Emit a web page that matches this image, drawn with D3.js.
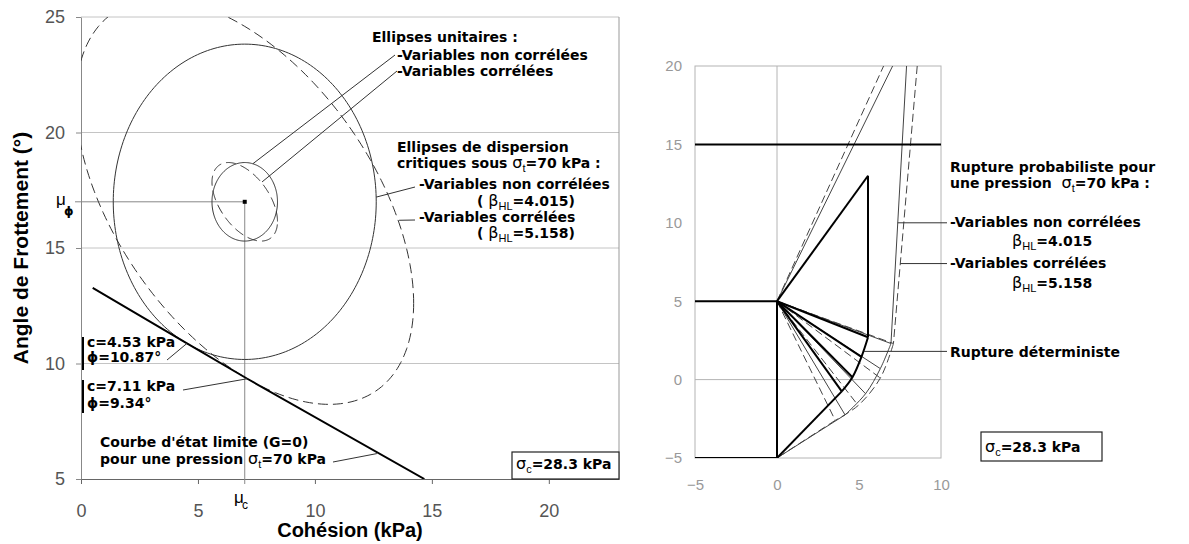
<!DOCTYPE html>
<html>
<head>
<meta charset="utf-8">
<script src="https://cdn.jsdelivr.net/npm/d3@7"></script>
<style>
body { margin: 0; background: #fff; }
.ann { font: bold 14px "DejaVu Sans", Verdana, sans-serif; fill: #000; white-space: pre; }
.greek { font: normal 16px "DejaVu Sans", sans-serif; }
.sub { font: normal 11px "Liberation Sans", Arial, sans-serif; }
.title { font: bold 20px "Liberation Sans", Arial, sans-serif; fill: #000; }
</style>
</head>
<body>
<svg id="chart" width="1189" height="544"></svg>
<script>
// ---- left chart : cohesion / friction plane
var cohTicks = [0, 5, 10, 15, 20];
var phiTicks = [5, 10, 15, 20, 25];
var mean = [7, 17];            // mu_c, mu_phi
var sigma = [1.4, 1.7];
var ellipseBeta = [1, 1, 4.015, 5.158];
var ellipseRho = [0, -0.5, 0, -0.5];
var ellipseDashed = [false, true, false, true];
var limitCurve = [[0.5, 13.27], [4.53, 10.87], [7.11, 9.34], [14.68, 5]];
var designPoints = [[4.53, 10.87], [7.11, 9.34]];

// ---- right chart : failure mechanisms
var xTicksR = [-5, 0, 5, 10];
var yTicksR = [-5, 0, 5, 10, 15, 20];
var groundLine = [[-5, 15], [10, 15]];
var wallLine = [[-5, 5], [0, 5], [0, -5], [-5, -5]];
var apex = [0, 5], toe = [0, -5];
var mechWedge = [[[0, 5], [5.55, 13]], [[0, 5], [7.05, 20]], [[0, 5], [6.5, 20]]];
var mechSide = [[[5.55, 13], [5.55, 2.7]], [[7.9, 20], [6.95, 2.3]], [[8.55, 20], [7.1, 2.3]]];
var mechSpiral = [
  [[5.55, 2.7], [5.15, 1.45], [4.6, 0.15], [3.95, -0.75]],
  [[6.95, 2.3], [6.3, 0.7], [5.4, -0.9], [4.15, -2.25]],
  [[7.1, 2.3], [6.3, 0.1], [4.95, -1.65], [3.55, -2.6]]
];

var svg = d3.select('#chart');
var defs = svg.append('defs');

function rich(g, x, y, parts) {
  var t = g.append('text').attr('class', 'ann').attr('x', x).attr('y', y);
  var shift = 0;
  parts.forEach(function (p) {
    var s = t.append('tspan').text(p[0]);
    var want = p[1] === 's' ? 4 : 0;
    if (want !== shift) { s.attr('dy', want - shift); shift = want; }
    if (p[1] === 'g') s.attr('class', 'greek');
    if (p[1] === 's') s.attr('class', 'sub');
  });
  return t;
}
function leader(g, x1, y1, x2, y2) {
  g.append('line').attr('x1', x1).attr('y1', y1).attr('x2', x2).attr('y2', y2)
    .attr('stroke', '#333').attr('stroke-width', 1);
}

// ================= LEFT =================
var xL = d3.scaleLinear().domain([0, 23]).range([81, 619]);
var yL = d3.scaleLinear().domain([5, 25]).range([479, 17]);
var left = svg.append('g');

defs.append('clipPath').attr('id', 'clipL').append('rect')
  .attr('x', xL(0)).attr('y', yL(25)).attr('width', xL(23) - xL(0)).attr('height', yL(5) - yL(25));

left.selectAll('.gridL').data(phiTicks.slice(1)).enter().append('line')
  .attr('x1', xL(0)).attr('x2', xL(23))
  .attr('y1', function (d) { return yL(d); }).attr('y2', function (d) { return yL(d); })
  .attr('stroke', '#c4c4c4');
left.append('line').attr('x1', xL(23)).attr('x2', xL(23)).attr('y1', yL(25)).attr('y2', yL(5))
  .attr('stroke', '#999');

var xAxisL = d3.axisBottom(xL).tickValues(cohTicks).tickSize(5).tickSizeOuter(0).tickPadding(20);
left.append('g').attr('transform', 'translate(0,' + yL(5) + ')').call(xAxisL)
  .attr('font-family', '"Liberation Sans", Arial, sans-serif').attr('font-size', 18)
  .call(function (g) {
    g.select('.domain').attr('stroke', '#666');
    g.selectAll('.tick line').attr('stroke', '#666');
    g.selectAll('.tick text').attr('fill', '#555');
  });
var yAxisL = d3.axisLeft(yL).tickValues(phiTicks).tickSize(5).tickSizeOuter(0).tickPadding(11);
left.append('g').attr('transform', 'translate(' + xL(0) + ',0)').call(yAxisL)
  .attr('font-family', '"Liberation Sans", Arial, sans-serif').attr('font-size', 18)
  .call(function (g) {
    g.select('.domain').attr('stroke', '#888');
    g.selectAll('.tick line').attr('stroke', '#888');
    g.selectAll('.tick text').attr('fill', '#555');
  });

// mean reference lines
left.append('line').attr('x1', xL(0) - 6).attr('x2', xL(mean[0]))
  .attr('y1', yL(mean[1])).attr('y2', yL(mean[1])).attr('stroke', '#888');
left.append('line').attr('x1', xL(mean[0])).attr('x2', xL(mean[0]))
  .attr('y1', yL(mean[1])).attr('y2', yL(5) + 5).attr('stroke', '#888');

var lineL = d3.line().x(function (d) { return xL(d[0]); }).y(function (d) { return yL(d[1]); });
function ellipsePts(beta, rho) {
  var pts = [];
  for (var k = 0; k <= 240; k++) {
    var t = k / 240 * 2 * Math.PI, u = Math.cos(t), v = Math.sin(t);
    pts.push([mean[0] + beta * sigma[0] * u,
              mean[1] + beta * sigma[1] * (rho * u + Math.sqrt(1 - rho * rho) * v)]);
  }
  return pts;
}
var ell = left.append('g').attr('clip-path', 'url(#clipL)');
ellipseBeta.forEach(function (b, i) {
  ell.append('path').attr('d', lineL(ellipsePts(b, ellipseRho[i])))
    .attr('fill', 'none').attr('stroke', '#333').attr('stroke-width', 1)
    .attr('stroke-dasharray', ellipseDashed[i] ? '10,5' : null);
});
ell.append('path').attr('d', lineL(limitCurve))
  .attr('fill', 'none').attr('stroke', '#000').attr('stroke-width', 2);

left.append('rect').attr('x', xL(mean[0]) - 2).attr('y', yL(mean[1]) - 2)
  .attr('width', 4).attr('height', 4).attr('fill', '#000');

// mu labels
left.append('text').attr('x', 56).attr('y', 205).attr('font-family', '"Liberation Sans", Arial')
  .attr('font-size', 17).text('μ');
left.append('text').attr('x', 64).attr('y', 215).attr('font-family', '"DejaVu Sans"')
  .attr('font-weight', 'bold').attr('font-size', 12).text('ϕ');
left.append('text').attr('x', 234).attr('y', 503).attr('font-family', '"Liberation Sans", Arial')
  .attr('font-size', 17).text('μ');
left.append('text').attr('x', 242).attr('y', 509).attr('font-family', '"Liberation Sans", Arial')
  .attr('font-size', 12).text('c');

// annotations
rich(left, 372, 42, [['Ellipses unitaires :']]);
rich(left, 397, 60, [['-Variables non corrélées']]);
rich(left, 397, 76, [['-Variables corrélées']]);
leader(left, 395, 55, xL(7.35), yL(18.65));
leader(left, 397, 71, xL(7.74), yL(17.86));

rich(left, 397, 152, [['Ellipses de dispersion']]);
rich(left, 397, 168, [['critiques sous '], ['σ', 'g'], ['t', 's'], ['=70 kPa :']]);
rich(left, 419, 189, [['-Variables non corrélées']]);
rich(left, 477, 206, [['( '], ['β', 'g'], ['HL', 's'], ['=4.015)']]);
rich(left, 419, 222, [['-Variables corrélées']]);
rich(left, 477, 238, [['( '], ['β', 'g'], ['HL', 's'], ['=5.158)']]);
leader(left, 415, 187, xL(12.61), yL(17.2));
leader(left, 415, 220, xL(13.6), yL(16.2));

left.append('rect').attr('x', 82).attr('y', 337).attr('width', 2).attr('height', 33).attr('fill', '#000');
rich(left, 87, 347, [['c=4.53 kPa']]);
rich(left, 87, 362, [['ϕ=10.87°']]);
leader(left, 167, 360, xL(designPoints[0][0]), yL(designPoints[0][1]));
left.append('rect').attr('x', 82).attr('y', 380).attr('width', 2).attr('height', 33).attr('fill', '#000');
rich(left, 87, 391, [['c=7.11 kPa']]);
rich(left, 87, 408, [['ϕ=9.34°']]);
leader(left, 183, 390, xL(designPoints[1][0]), yL(designPoints[1][1]));

rich(left, 100, 447, [["Courbe d'état limite (G=0)"]]);
rich(left, 100, 464, [['pour une pression '], ['σ', 'g'], ['t', 's'], ['=70 kPa']]);
leader(left, 333, 462, xL(12.65), yL(6.1));

left.append('rect').attr('x', 512).attr('y', 452).attr('width', 107).attr('height', 27)
  .attr('fill', '#fff').attr('stroke', '#222').attr('stroke-width', 1.2);
rich(left, 516, 469, [['σ', 'g'], ['c', 's'], ['=28.3 kPa']]);

left.append('text').attr('class', 'title').attr('x', (xL(0) + xL(23)) / 2).attr('y', 537)
  .attr('text-anchor', 'middle').text('Cohésion (kPa)');
left.append('text').attr('class', 'title')
  .attr('transform', 'translate(28,' + (yL(5) + yL(25)) / 2 + ') rotate(-90)')
  .attr('text-anchor', 'middle').style('font-size', '21px').text('Angle de Frottement (°)');

// ================= RIGHT =================
var xR = d3.scaleLinear().domain([-5, 10]).range([695, 941]);
var yR = d3.scaleLinear().domain([-5, 20]).range([458, 66]);
var right = svg.append('g');

defs.append('clipPath').attr('id', 'clipR').append('rect')
  .attr('x', xR(-5)).attr('y', yR(20)).attr('width', xR(10) - xR(-5)).attr('height', yR(-5) - yR(20));

right.append('rect').attr('x', xR(-5)).attr('y', yR(20))
  .attr('width', xR(10) - xR(-5)).attr('height', yR(-5) - yR(20))
  .attr('fill', 'none').attr('stroke', '#b4b4b4');
right.append('line').attr('x1', xR(0)).attr('x2', xR(0)).attr('y1', yR(20)).attr('y2', yR(-5)).attr('stroke', '#b4b4b4');
right.append('line').attr('x1', xR(-5)).attr('x2', xR(10)).attr('y1', yR(0)).attr('y2', yR(0)).attr('stroke', '#b4b4b4');

right.append('g').attr('transform', 'translate(0,' + yR(-5) + ')')
  .call(d3.axisBottom(xR).tickValues(xTicksR).tickSize(0).tickPadding(21))
  .attr('font-family', '"Liberation Sans", Arial, sans-serif').attr('font-size', 15)
  .call(function (g) { g.select('.domain').remove(); g.selectAll('.tick text').attr('fill', '#999'); });
right.append('g').attr('transform', 'translate(' + xR(-5) + ',0)')
  .call(d3.axisLeft(yR).tickValues(yTicksR).tickSize(0).tickPadding(13))
  .attr('font-family', '"Liberation Sans", Arial, sans-serif').attr('font-size', 15)
  .call(function (g) { g.select('.domain').remove(); g.selectAll('.tick text').attr('fill', '#999'); });

var lineR = d3.line().x(function (d) { return xR(d[0]); }).y(function (d) { return yR(d[1]); });
var spiralR = d3.line().x(function (d) { return xR(d[0]); }).y(function (d) { return yR(d[1]); })
  .curve(d3.curveCatmullRom);

var mech = right.append('g').attr('clip-path', 'url(#clipR)').attr('fill', 'none');
var mechStyle = [
  { stroke: '#000', width: 2, dash: null },
  { stroke: '#444', width: 1, dash: null },
  { stroke: '#444', width: 1, dash: '8,4' }
];
[2, 1, 0].forEach(function (i) {
  var st = mechStyle[i];
  var g = mech.append('g').attr('stroke', st.stroke).attr('stroke-width', st.width)
    .attr('stroke-dasharray', st.dash);
  g.append('path').attr('d', lineR(mechWedge[i]));
  g.append('path').attr('d', lineR(mechSide[i]));
  g.append('path').attr('d', spiralR(mechSpiral[i]));
  g.append('path').attr('d', lineR([mechSpiral[i][mechSpiral[i].length - 1], toe]));
  mechSpiral[i].forEach(function (p) { g.append('path').attr('d', lineR([apex, p])); });
});
mech.append('path').attr('d', lineR(groundLine)).attr('stroke', '#000').attr('stroke-width', 2);
mech.append('path').attr('d', lineR(wallLine)).attr('stroke', '#000').attr('stroke-width', 2);

rich(right, 950, 172, [['Rupture probabiliste pour']]);
rich(right, 950, 188, [['une pression  '], ['σ', 'g'], ['t', 's'], ['=70 kPa :']]);
rich(right, 950, 227, [['-Variables non corrélées']]);
rich(right, 1012, 246, [['β', 'g'], ['HL', 's'], ['=4.015']]);
rich(right, 950, 268, [['-Variables corrélées']]);
rich(right, 1012, 288, [['β', 'g'], ['HL', 's'], ['=5.158']]);
rich(right, 950, 357, [['Rupture déterministe']]);
leader(right, xR(7.36), yR(10), 947, yR(10));
leader(right, xR(7.52), yR(7.4), 947, yR(7.4));
leader(right, xR(5.3), yR(1.8), 947, yR(1.8));

right.append('rect').attr('x', 981).attr('y', 432).attr('width', 121).attr('height', 29)
  .attr('fill', '#fff').attr('stroke', '#222').attr('stroke-width', 1.2);
rich(right, 985, 452, [['σ', 'g'], ['c', 's'], ['=28.3 kPa']]);
</script>
</body>
</html>
